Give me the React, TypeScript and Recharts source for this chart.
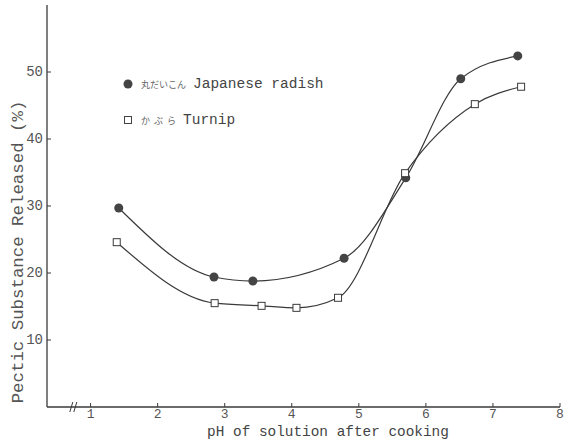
import React from "react";
import { LineChart, Line, XAxis, YAxis, ReferenceDot } from "recharts";

if (typeof document !== "undefined") document.body.style.margin = "0";

const phTicks = [1, 2, 3, 4, 5, 6, 7, 8];
const releasedTicks = [10, 20, 30, 40, 50];

const radishPh = [1.42, 2.84, 3.42, 4.78, 5.7, 6.52, 7.37];
const radishReleased = [29.7, 19.4, 18.8, 22.2, 34.2, 49.0, 52.4];

const turnipPh = [1.39, 2.85, 3.55, 4.07, 4.69, 5.69, 6.73, 7.42];
const turnipReleased = [24.6, 15.5, 15.1, 14.8, 16.3, 34.9, 45.2, 47.8];

const radish = radishPh.map((ph, i) => ({ ph, value: radishReleased[i] }));
const turnip = turnipPh.map((ph, i) => ({ ph, value: turnipReleased[i] }));

const ink = "#3a3a3a";
const textGray = "#555";
const mono = "'Liberation Mono', 'DejaVu Sans Mono', monospace";
const jp = "'Noto Sans CJK JP', sans-serif";

function SquareDot(props: any) {
  const { cx, cy } = props;
  if (cx == null || cy == null) return null;
  return <rect x={cx - 3.5} y={cy - 3.5} width={7} height={7} fill="#fff" stroke={ink} strokeWidth={1} />;
}

function YTick(props: any) {
  const { y, payload } = props;
  return (
    <g>
      <line x1={47} x2={51} y1={y} y2={y} stroke={ink} strokeWidth={1} />
      <text x={43} y={y} dominantBaseline="central" textAnchor="end" fontFamily={mono} fontSize={14} fill={textGray}>
        {payload.value}
      </text>
    </g>
  );
}

function XTick(props: any) {
  const { x, payload } = props;
  return (
    <g>
      <line x1={x} x2={x} y1={407} y2={403} stroke={ink} strokeWidth={1} />
      <text x={x} y={414} dominantBaseline="central" textAnchor="middle" fontFamily={mono} fontSize={13} fill={textGray}>
        {payload.value}
      </text>
    </g>
  );
}

function AxisBreak(props: any) {
  const { cx, cy } = props;
  if (cx == null || cy == null) return null;
  return (
    <g stroke={ink} strokeWidth={1} fill="none">
      <line x1={cx - 4} y1={cy + 5} x2={cx - 1} y2={cy - 5} />
      <line x1={cx} y1={cy + 5} x2={cx + 3} y2={cy - 5} />
    </g>
  );
}

function LegendBox() {
  return (
    <div style={{ position: "absolute", left: 121, top: 76, color: "#444" }}>
      <div style={{ display: "flex", alignItems: "center", height: 16 }}>
        <svg width={14} height={14}>
          <circle cx={7} cy={7} r={4.5} fill="#444" />
        </svg>
        <span style={{ fontFamily: jp, fontSize: 9, marginLeft: 6, color: "#666" }}>丸だいこん</span>
        <span style={{ fontFamily: mono, fontSize: 14.5, marginLeft: 7 }}>Japanese radish</span>
      </div>
      <div style={{ display: "flex", alignItems: "center", height: 16, marginTop: 20 }}>
        <svg width={14} height={14}>
          <rect x={3.5} y={3.5} width={7} height={7} fill="#fff" stroke="#444" />
        </svg>
        <span style={{ fontFamily: jp, fontSize: 9, marginLeft: 6, color: "#666", letterSpacing: 4 }}>かぶら</span>
        <span style={{ fontFamily: mono, fontSize: 14.5, marginLeft: 3 }}>Turnip</span>
      </div>
    </div>
  );
}

function YLabel() {
  return (
    <text
      x={18}
      y={252}
      transform="rotate(-90 18 252)"
      textAnchor="middle"
      dominantBaseline="central"
      fontFamily={mono}
      fontSize={17.4}
      fill={textGray}
    >
      Pectic Substance Released (%)
    </text>
  );
}

function XLabel() {
  return (
    <text x={328} y={432} textAnchor="middle" dominantBaseline="central" fontFamily={mono} fontSize={14.4} fill="#444">
      pH of solution after cooking
    </text>
  );
}

export default function App() {
  return (
    <div style={{ position: "relative", background: "#fff", width: 564, height: 440 }}>
      <LineChart width={564} height={440} margin={{ top: 5, right: 4, bottom: 0, left: 0 }}>
        <XAxis
          type="number"
          dataKey="ph"
          domain={[0.35, 8]}
          ticks={phTicks}
          allowDataOverflow
          height={33}
          tick={<XTick />}
          tickLine={false}
          axisLine={{ stroke: ink, strokeWidth: 1.3 }}
          label={<XLabel />}
        />
        <YAxis
          type="number"
          dataKey="value"
          domain={[0, 60]}
          ticks={releasedTicks}
          width={47}
          tick={<YTick />}
          tickLine={false}
          axisLine={{ stroke: ink, strokeWidth: 1.3 }}
          label={<YLabel />}
        />
        <ReferenceDot x={0.75} y={0} r={0} shape={<AxisBreak />} ifOverflow="visible" />
        <Line
          data={radish}
          dataKey="value"
          type="monotone"
          stroke={ink}
          strokeWidth={1.2}
          dot={{ r: 4.5, fill: "#444", stroke: "#444", strokeWidth: 0 }}
          isAnimationActive={false}
          name="丸だいこん Japanese radish"
        />
        <Line
          data={turnip}
          dataKey="value"
          type="monotone"
          stroke={ink}
          strokeWidth={1.2}
          dot={<SquareDot />}
          isAnimationActive={false}
          name="かぶら Turnip"
        />
      </LineChart>
      <LegendBox />
    </div>
  );
}
